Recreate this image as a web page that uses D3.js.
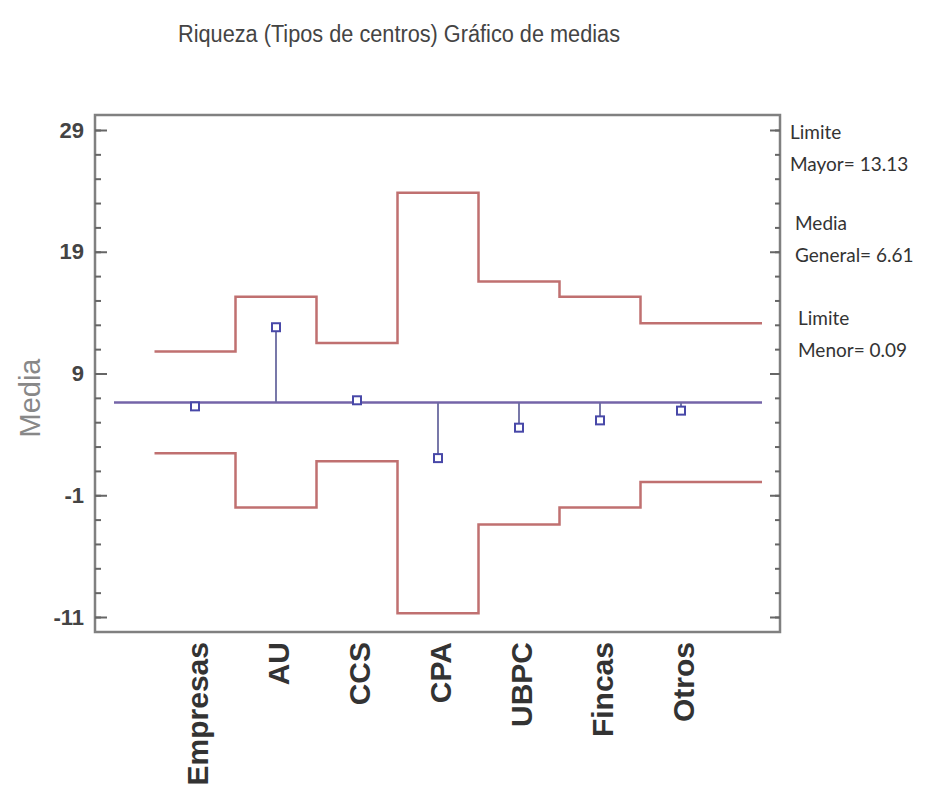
<!DOCTYPE html>
<html>
<head>
<meta charset="utf-8">
<script src="https://cdn.jsdelivr.net/npm/d3@7"></script>
<style>
  body { margin: 0; background: #fff; }
  svg { display: block; }
</style>
</head>
<body>
<div id="chart"></div>
<script>
// valores
const categories = ["Empresas", "AU", "CCS", "CPA", "UBPC", "Fincas", "Otros"];
const means = [6.3, 12.8, 6.8, 2.05, 4.55, 5.15, 5.95];
const upperLimits = [10.8, 15.3, 11.5, 23.85, 16.55, 15.3, 13.13];
const lowerLimits = [2.45, -2.0, 1.8, -10.7, -3.4, -2.0, 0.09];
const grandMean = 6.61;
const yTicks = [29, 19, 9, -1, -11];
const yMinorTicks = d3.range(-11, 30, 2);
const sideNotes = [["Limite", "Mayor= 13.13"], ["Media", "General= 6.61"], ["Limite", "Menor= 0.09"]];

const width = 926, height = 792;
const plot = { left: 95, right: 780, top: 115, bottom: 632 };

const svg = d3.select("#chart").append("svg")
    .attr("width", width)
    .attr("height", height);

// indice de categoria -> pixel
const x = d3.scaleLinear().domain([0, 6]).range([195, 681]);
const y = d3.scaleLinear().domain([-11, 29]).range([617, 130]);

// titulo (fuente estrecha)
svg.append("text")
    .attr("x", 178).attr("y", 42)
    .attr("textLength", 442)
    .attr("lengthAdjust", "spacingAndGlyphs")
    .style("font-family", "'Liberation Sans', Arial, sans-serif")
    .style("font-size", "23px")
    .style("fill", "#444")
    .text("Riqueza (Tipos de centros) Gráfico de medias");

// marco
svg.append("rect")
    .attr("x", plot.left).attr("y", plot.top)
    .attr("width", plot.right - plot.left)
    .attr("height", plot.bottom - plot.top)
    .attr("fill", "none")
    .attr("stroke", "#808080")
    .attr("stroke-width", 2.5);

function styleAxis(g) {
    g.select(".domain").remove();
    g.selectAll(".tick line").attr("stroke", "#666").attr("stroke-width", 2);
}

// eje izquierdo
svg.append("g")
    .attr("transform", `translate(${plot.left},0)`)
    .call(d3.axisLeft(y).tickValues(yMinorTicks).tickSize(-6).tickFormat(""))
    .call(styleAxis);
svg.append("g")
    .attr("transform", `translate(${plot.left},0)`)
    .call(d3.axisLeft(y).tickValues(yTicks).tickSize(-12).tickPadding(11).tickFormat(d => String(d)))
    .call(styleAxis)
    .call(g => g.selectAll(".tick text")
        .style("font-family", "'Liberation Sans', Arial, sans-serif")
        .style("font-size", "22px")
        .style("font-weight", "bold")
        .style("fill", "#444"));

// eje derecho (sin etiquetas)
svg.append("g")
    .attr("transform", `translate(${plot.right},0)`)
    .call(d3.axisRight(y).tickValues(yMinorTicks).tickSize(-5).tickFormat(""))
    .call(styleAxis);
svg.append("g")
    .attr("transform", `translate(${plot.right},0)`)
    .call(d3.axisRight(y).tickValues(yTicks).tickSize(-10).tickFormat(""))
    .call(styleAxis);

// limites escalonados
function stepPoints(vals) {
    let pts = vals.map((v, i) => [i - 0.5, v]);
    pts.push([7, vals[vals.length - 1]]);
    return pts;
}
const stepLine = d3.line()
    .x(d => x(d[0]))
    .y(d => y(d[1]))
    .curve(d3.curveStepAfter);

[upperLimits, lowerLimits].forEach(vals => {
    svg.append("path")
        .attr("d", stepLine(stepPoints(vals)))
        .attr("fill", "none")
        .attr("stroke", "#c07070")
        .attr("stroke-width", 2.5);
});

// linea de la media general
svg.append("line")
    .attr("x1", x(-1)).attr("x2", x(7))
    .attr("y1", y(grandMean)).attr("y2", y(grandMean))
    .attr("stroke", "#7464a8")
    .attr("stroke-width", 2.5);

// tallos y medias
svg.selectAll(".stem")
    .data(means)
    .join("line")
    .attr("class", "stem")
    .attr("x1", (d, i) => x(i)).attr("x2", (d, i) => x(i))
    .attr("y1", y(grandMean))
    .attr("y2", d => y(d))
    .attr("stroke", "#6a6aa0")
    .attr("stroke-width", 1.8);

svg.selectAll(".mark")
    .data(means)
    .join("rect")
    .attr("class", "mark")
    .attr("x", (d, i) => x(i) - 4)
    .attr("y", d => y(d) - 4)
    .attr("width", 8).attr("height", 8)
    .attr("fill", "#fff")
    .attr("stroke", "#4848a8")
    .attr("stroke-width", 2);

// etiquetas de categorias
svg.selectAll(".cat")
    .data(categories)
    .join("text")
    .attr("class", "cat")
    .attr("transform", (d, i) => `translate(${x(i) + 2},642) rotate(-90)`)
    .attr("text-anchor", "end")
    .attr("dy", "0.36em")
    .style("font-family", "'Liberation Sans', Arial, sans-serif")
    .style("font-size", "30px")
    .style("font-weight", "bold")
    .style("fill", "#333")
    .text(d => d);

// titulo del eje y
svg.append("text")
    .attr("transform", "translate(40,398) rotate(-90)")
    .attr("text-anchor", "middle")
    .style("font-family", "'Liberation Sans', Arial, sans-serif")
    .style("font-size", "29px")
    .style("fill", "#888")
    .text("Media");

// notas laterales
const noteX = [790, 795, 798];
const noteY = [132, 223, 318];
sideNotes.forEach((lines, k) => {
    lines.forEach((t, j) => {
        svg.append("text")
            .attr("x", noteX[k])
            .attr("y", noteY[k] + j * 32)
            .attr("dy", "0.35em")
            .style("font-family", "Lato, 'Open Sans', sans-serif")
            .style("font-size", "19px")
            .style("fill", "#333")
            .text(t);
    });
});
</script>
</body>
</html>
